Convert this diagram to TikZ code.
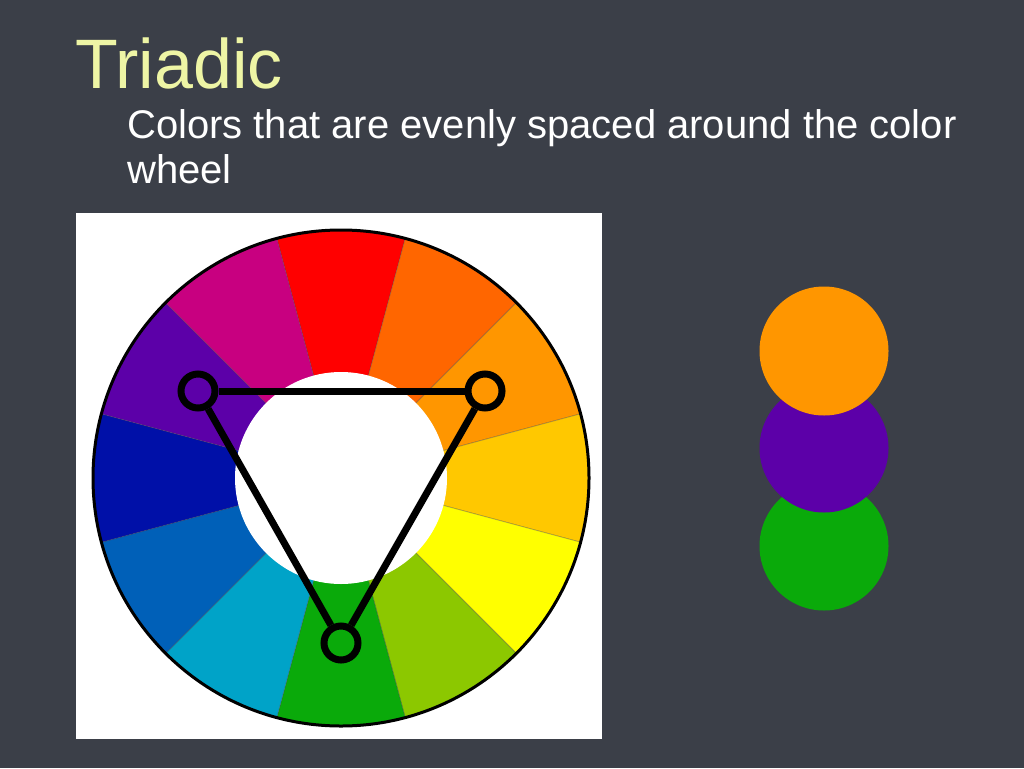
\documentclass[tikz,border=0pt]{standalone}
\usepackage{fontspec}
\setmainfont{Liberation Sans}
\definecolor{bgslate}{RGB}{59,63,72}
\definecolor{titleyellow}{RGB}{238,245,165}
\definecolor{wred}{RGB}{255,0,0}
\definecolor{wredorange}{RGB}{255,102,0}
\definecolor{worange}{RGB}{255,150,0}
\definecolor{wyelloworange}{RGB}{255,200,0}
\definecolor{wyellow}{RGB}{255,255,0}
\definecolor{wyellowgreen}{RGB}{140,200,0}
\definecolor{wgreen}{RGB}{10,170,10}
\definecolor{wteal}{RGB}{0,163,200}
\definecolor{wblue}{RGB}{0,96,184}
\definecolor{wdarkblue}{RGB}{0,16,168}
\definecolor{wviolet}{RGB}{92,0,168}
\definecolor{wmagenta}{RGB}{200,0,128}
\begin{document}
\begin{tikzpicture}[x=1pt,y=-1pt,
  titletext/.style={anchor=base west, inner sep=0, text=titleyellow, font=\fontsize{70}{70}\selectfont},
  bodytext/.style={anchor=base west, inner sep=0, text=white, font=\fontsize{40}{45}\selectfont},
  ring/.style={circle, draw=black, line width=7pt, minimum size=34pt, inner sep=0pt},
  tri/.style={draw=black, line width=7pt},
  swatch/.style={circle, minimum size=129pt, inner sep=0pt}]
\useasboundingbox (0,0) rectangle (1024,768);
\fill[bgslate] (0,0) rectangle (1024,768);
% texts
\node[titletext] (title) at (75,88) {Triadic};
\node[bodytext] (line1) at (127,138) {Colors that are evenly spaced around the color};
\node[bodytext] (line2) at (127,183) {wheel};
% white picture area
\fill[white] (76,213) rectangle (602,739);
% colour wheel (angles run clockwise on screen)
\begin{scope}[shift={(341,478)}]
  \foreach \a/\c in {270/wred, 300/wredorange, 330/worange, 0/wyelloworange,
                     30/wyellow, 60/wyellowgreen, 90/wgreen, 120/wteal,
                     150/wblue, 180/wdarkblue, 210/wviolet, 240/wmagenta}{
    \fill[\c, draw=black!70, draw opacity=0.35, line width=0.8pt]
      (\a-15:100) -- (\a-15:248) arc[start angle=\a-15, end angle=\a+15, radius=248]
      -- (\a+15:100) -- cycle;
  }
  \fill[white] (0,0) circle[radius=106];
  \draw[black, line width=3pt] (0,0) circle[radius=248];
\end{scope}
% triad markers
\node[ring] (pv) at (198,391) {};
\node[ring] (po) at (485,391) {};
\node[ring] (pg) at (341,643) {};
\draw[tri] (pv) -- (po);
\draw[tri] (po) -- (pg);
\draw[tri] (pg) -- (pv);
% swatches
\node[swatch, fill=wgreen] (sg) at (824,546) {};
\node[swatch, fill=wviolet] (sv) at (824,448) {};
\node[swatch, fill=worange] (so) at (824,351) {};
\end{tikzpicture}
\end{document}
